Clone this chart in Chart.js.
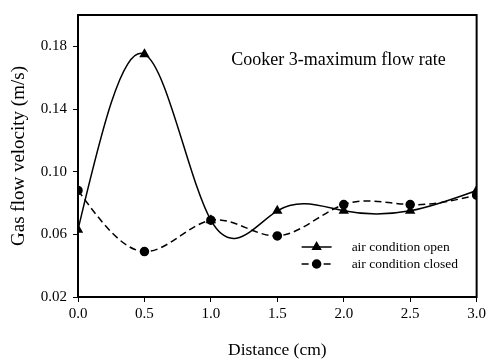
<!DOCTYPE html>
<html>
<head>
<meta charset="UTF-8">
<title>Cooker 3</title>
<style>
  html, body { margin: 0; padding: 0; background: #fff; }
  #wrap { width: 489px; height: 362px; }
</style>
</head>
<body>
<div id="wrap"><canvas id="chart" width="489" height="362"></canvas></div>
<script src="https://cdn.jsdelivr.net/npm/chart.js@4/dist/chart.umd.min.js"></script>
<script>
// distances along the cooker (cm)
var distance = [0, 0.5, 1.0, 1.5, 2.0, 2.5, 3.0];
// gas flow velocity (m/s)
var airOpen   = [0.063, 0.175, 0.069, 0.075, 0.075, 0.075, 0.088];
var airClosed = [0.088, 0.049, 0.069, 0.059, 0.079, 0.079, 0.085];
var yTicks = [0.02, 0.06, 0.10, 0.14, 0.18];
var xTicks = [0, 0.5, 1.0, 1.5, 2.0, 2.5, 3.0];

var serif = '"Liberation Serif", "Times New Roman", serif';

function pts(vals) {
  return distance.map(function (d, i) { return { x: d, y: vals[i] }; });
}

// slopes of a natural cubic spline through (xs, ys)
function splineSlopes(xs, ys) {
  var n = xs.length, h = [], M = new Array(n).fill(0);
  for (var i = 0; i < n - 1; i++) h.push(xs[i + 1] - xs[i]);
  // tridiagonal system for the second derivatives (M0 = Mn = 0)
  var a = [], b = [], c = [], d = [];
  for (i = 1; i < n - 1; i++) {
    a.push(h[i - 1]); b.push(2 * (h[i - 1] + h[i])); c.push(h[i]);
    d.push(6 * ((ys[i + 1] - ys[i]) / h[i] - (ys[i] - ys[i - 1]) / h[i - 1]));
  }
  var m = b.length;
  for (i = 1; i < m; i++) {
    var w = a[i] / b[i - 1];
    b[i] -= w * c[i - 1];
    d[i] -= w * d[i - 1];
  }
  for (i = m - 1; i >= 0; i--) {
    M[i + 1] = (d[i] - (i < m - 1 ? c[i] * M[i + 2] : 0)) / b[i];
  }
  var s = [];
  for (i = 0; i < n - 1; i++) {
    s.push((ys[i + 1] - ys[i]) / h[i] - h[i] * (2 * M[i] + M[i + 1]) / 6);
  }
  s.push((ys[n - 1] - ys[n - 2]) / h[n - 2] + h[n - 2] * (M[n - 2] + 2 * M[n - 1]) / 6);
  return s;
}

// the original plot uses a cubic spline; set the bezier handles from it
var splinePlugin = {
  id: 'spline',
  beforeDatasetDraw: function (chart, args) {
    var meta = args.meta, line = meta.dataset, points = meta.data;
    var xs = meta.xScale, ys = meta.yScale;
    var raw = chart.data.datasets[args.index].data;
    var px = raw.map(function (p) { return p.x; });
    var py = raw.map(function (p) { return p.y; });
    var slope = splineSlopes(px, py);
    line.updateControlPoints(chart.chartArea, 'x');
    for (var i = 0; i < points.length; i++) {
      var pt = points[i];
      if (i > 0) {
        var hb = (px[i] - px[i - 1]) / 3;
        pt.cp1x = xs.getPixelForValue(px[i] - hb);
        pt.cp1y = ys.getPixelForValue(py[i] - slope[i] * hb);
      }
      if (i < points.length - 1) {
        var ha = (px[i + 1] - px[i]) / 3;
        pt.cp2x = xs.getPixelForValue(px[i] + ha);
        pt.cp2y = ys.getPixelForValue(py[i] + slope[i] * ha);
      }
    }
    line._path = undefined;
  }
};

// box round the plot area
var boxPlugin = {
  id: 'box',
  afterDatasetsDraw: function (chart) {
    var a = chart.chartArea, ctx = chart.ctx;
    ctx.save();
    ctx.strokeStyle = '#000';
    ctx.lineWidth = 2;
    ctx.strokeRect(a.left, a.top, a.right - a.left, a.bottom - a.top);
    ctx.restore();
  }
};

// title inside the plot + legend at lower right
var notesPlugin = {
  id: 'notes',
  afterDraw: function (chart) {
    var a = chart.chartArea, ctx = chart.ctx;
    ctx.save();
    ctx.fillStyle = '#000';
    ctx.font = '18px ' + serif;
    ctx.textAlign = 'right';
    ctx.textBaseline = 'alphabetic';
    ctx.fillText('Cooker 3-maximum flow rate', a.right - 31, a.top + 50);

    var items = [
      { text: 'air condition open', dash: [], style: 'triangle', r: 4.5 },
      { text: 'air condition closed', dash: [7, 4], style: 'circle', r: 4 }
    ];
    var x0 = a.right - 175, y0 = a.bottom - 50;
    items.forEach(function (it, i) {
      var y = y0 + i * 17;
      ctx.strokeStyle = '#000';
      ctx.lineWidth = 1.5;
      ctx.setLineDash(it.dash);
      ctx.beginPath();
      ctx.moveTo(x0, y);
      ctx.lineTo(x0 + 30, y);
      ctx.stroke();
      ctx.setLineDash([]);
      Chart.helpers.drawPoint(ctx, { pointStyle: it.style, radius: it.r, borderWidth: 1 }, x0 + 15, y);
      ctx.fillStyle = '#000';
      ctx.fill();
      ctx.font = '13.5px ' + serif;
      ctx.textAlign = 'left';
      ctx.textBaseline = 'middle';
      ctx.fillText(it.text, x0 + 50, y);
    });
    ctx.restore();
  }
};

new Chart(document.getElementById('chart'), {
  type: 'line',
  data: {
    datasets: [{
      label: 'air condition open',
      data: pts(airOpen),
      borderColor: '#000',
      backgroundColor: '#000',
      borderWidth: 1.5,
      pointStyle: 'triangle',
      pointRadius: 4.5,
      tension: 0.4
    }, {
      label: 'air condition closed',
      data: pts(airClosed),
      borderColor: '#000',
      backgroundColor: '#000',
      borderWidth: 1.5,
      borderDash: [7, 4],
      pointStyle: 'circle',
      pointRadius: 4,
      tension: 0.4
    }]
  },
  options: {
    responsive: false,
    animation: false,
    layout: { padding: { top: 10, right: 11, left: 0, bottom: 0 } },
    plugins: { legend: { display: false }, tooltip: { enabled: false } },
    scales: {
      x: {
        type: 'linear',
        min: 0, max: 3,
        afterBuildTicks: function (s) { s.ticks = xTicks.map(function (v) { return { value: v }; }); },
        afterFit: function (s) { s.height = 65; },
        ticks: {
          color: '#000', padding: 3,
          font: { family: serif, size: 15 },
          callback: function (v) { return v.toFixed(1); }
        },
        grid: { drawOnChartArea: false, drawTicks: true, tickLength: 5, color: '#000', lineWidth: 1 },
        border: { color: '#000', width: 2 },
        title: {
          display: true, text: 'Distance (cm)', color: '#000',
          font: { family: serif, size: 17.5 }, padding: { bottom: 1.5, top: 0 }
        }
      },
      y: {
        min: 0.02, max: 0.2,
        afterBuildTicks: function (s) { s.ticks = yTicks.map(function (v) { return { value: v }; }); },
        afterFit: function (s) { s.width = 78; },
        ticks: {
          color: '#000', padding: 6,
          font: { family: serif, size: 15 },
          callback: function (v) { return v.toFixed(2); }
        },
        grid: { drawOnChartArea: false, drawTicks: true, tickLength: 5, color: '#000', lineWidth: 1 },
        border: { color: '#000', width: 2 },
        title: {
          display: true, text: 'Gas flow velocity (m/s)', color: '#000',
          font: { family: serif, size: 19 }, padding: { top: 8, bottom: 0 }
        }
      }
    }
  },
  plugins: [splinePlugin, boxPlugin, notesPlugin]
});
</script>
</body>
</html>
